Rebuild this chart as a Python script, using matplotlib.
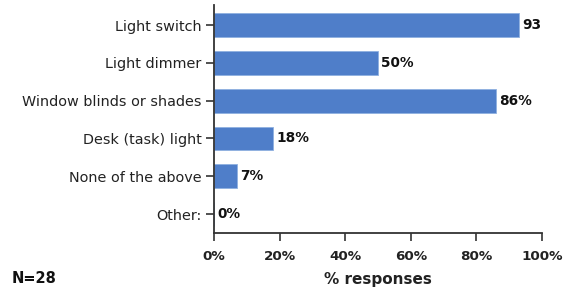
import matplotlib
matplotlib.use("Agg")
from matplotlib import pyplot as plt

categories = ["Light switch", "Light dimmer", "Window blinds or shades",
              "Desk (task) light", "None of the above", "Other:"]
values = [93, 50, 86, 18, 7, 0]
labels = ["93", "50%", "86%", "18%", "7%", "0%"]
xticks = [0, 20, 40, 60, 80, 100]
note = "N=28"

fig = plt.figure(figsize=(5.64, 2.92), dpi=100)
ax = fig.add_axes([0.3794, 0.202, 0.5816, 0.781])

pos = list(range(len(categories)))
ax.barh(pos, values, height=0.63, color="#4f7ec9", edgecolor="#8fb0e0", linewidth=0.6)

for p, v, lab in zip(pos, values, labels):
    ax.text(v + 1.0, p, lab, va="center", ha="left", fontsize=9.8,
            fontweight="bold", color="#111111")

ax.set_ylim(5.5, -0.53)
ax.set_xlim(0, 100)
ax.set_yticks(pos)
ax.set_yticklabels(categories, fontsize=10.4, color="#222222")
ax.set_xticks(xticks)
ax.set_xticklabels([f"{t}%" for t in xticks], fontsize=9.7, fontweight="bold", color="#222222")
ax.set_xlabel("% responses", fontsize=11, fontweight="bold", color="#222222", labelpad=7)

for side in ["top", "right"]:
    ax.spines[side].set_visible(False)
for side in ["left", "bottom"]:
    ax.spines[side].set_color("#333333")
    ax.spines[side].set_linewidth(1.3)
ax.tick_params(axis="y", length=6, width=1.2, color="#333333", pad=3)
ax.tick_params(axis="x", length=6, width=1.2, color="#333333", pad=6)

fig.text(0.021, 0.03, note, fontsize=10.5, fontweight="bold", color="#111111")

fig.savefig("out.png", dpi=100)
